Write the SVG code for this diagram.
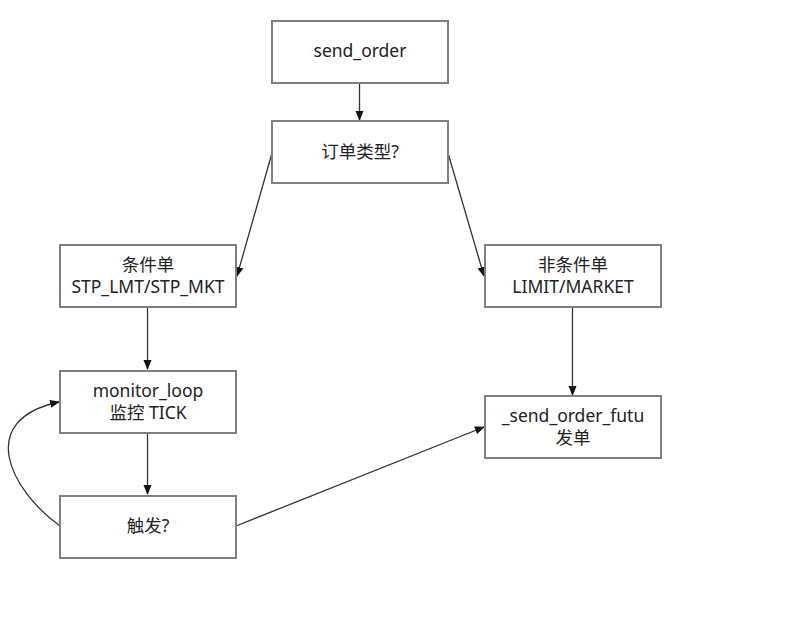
<svg xmlns="http://www.w3.org/2000/svg" width="808" height="619" viewBox="0 0 808 619">
<defs>
<style>
.box{fill:#fff;stroke:#7f7f7f;stroke-width:2}
.t{font-family:"Noto Sans","Noto Sans CJK SC",sans-serif;font-size:17.5px;fill:#222;text-anchor:middle}
.e{fill:none;stroke:#333;stroke-width:1.3}
</style>
<marker id="a" viewBox="0 0 10 10" refX="9" refY="5" markerWidth="10" markerHeight="10" markerUnits="userSpaceOnUse" orient="auto">
<path d="M0,1 L10,5 L0,9 Z" fill="#111"/>
</marker>
</defs>
<rect width="808" height="619" fill="#fff"/>
<g id="edges">
<path class="e" d="M359.5,83 L359.5,120" marker-end="url(#a)"/>
<path class="e" d="M272,153 L237,276" marker-end="url(#a)"/>
<path class="e" d="M448,153 L484,276" marker-end="url(#a)"/>
<path class="e" d="M147.5,308 L147.5,369" marker-end="url(#a)"/>
<path class="e" d="M147.5,433 L147.5,494" marker-end="url(#a)"/>
<path class="e" d="M572.5,308 L572.5,395" marker-end="url(#a)"/>
<path class="e" d="M236,526 L484,427" marker-end="url(#a)"/>
<path class="e" d="M60,526 C10,490 -25,420 59,402" marker-end="url(#a)"/>
</g>
<g id="send_order"><rect class="box" x="272" y="21" width="176" height="62"/><text class="t" x="360" y="57">send_order</text></g>
<g id="order_type"><rect class="box" x="272" y="121" width="176" height="62"/><text class="t" x="360" y="158">订单类型?</text></g>
<g id="cond"><rect class="box" x="60" y="245" width="176" height="62"/><text class="t" x="148" y="271">条件单</text><text class="t" x="148" y="293">STP_LMT/STP_MKT</text></g>
<g id="noncond"><rect class="box" x="485" y="245" width="176" height="62"/><text class="t" x="573" y="271">非条件单</text><text class="t" x="573" y="293">LIMIT/MARKET</text></g>
<g id="monitor"><rect class="box" x="60" y="371" width="176" height="62"/><text class="t" x="148" y="397">monitor_loop</text><text class="t" x="148" y="419">监控 TICK</text></g>
<g id="futu"><rect class="box" x="485" y="396" width="176" height="62"/><text class="t" x="573" y="422">_send_order_futu</text><text class="t" x="573" y="444">发单</text></g>
<g id="trigger"><rect class="box" x="60" y="496" width="176" height="62"/><text class="t" x="148" y="532">触发?</text></g>
</svg>
